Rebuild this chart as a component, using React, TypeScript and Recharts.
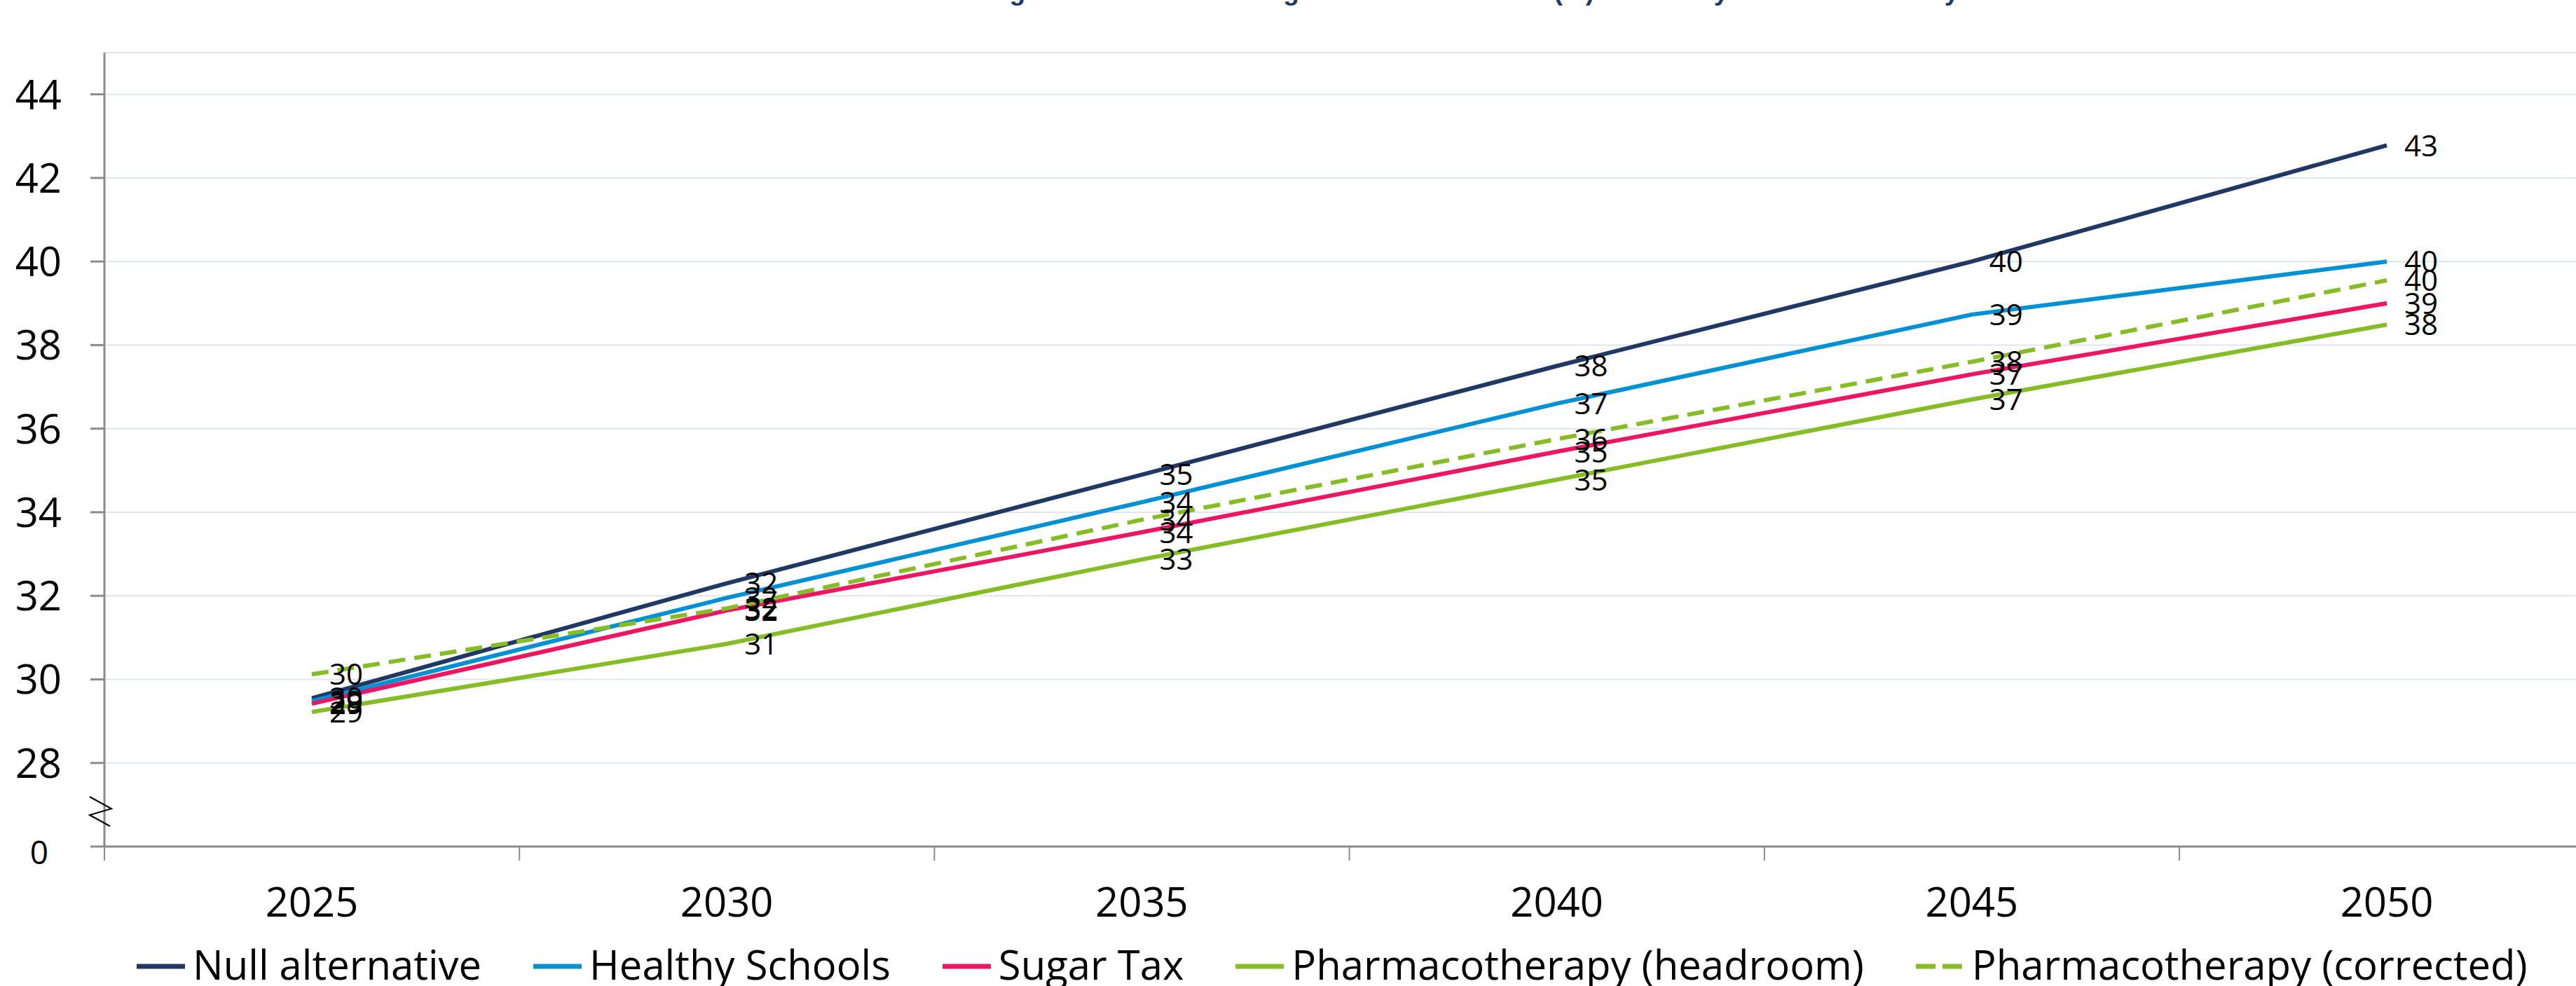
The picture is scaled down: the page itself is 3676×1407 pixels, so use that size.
import React from 'react';
import { LineChart, Line, XAxis, YAxis, CartesianGrid, Legend, LabelList } from 'recharts';

// Category axis and the five scenario series
const years = ['2025', '2030', '2035', '2040', '2045', '2050'];
const nullAlternative = [29.55, 32.3, 34.9, 37.5, 40.0, 42.78];
const healthySchools = [29.48, 31.95, 34.24, 36.6, 38.73, 40.0];
const sugarTax = [29.42, 31.65, 33.52, 35.45, 37.3, 39.0];
const pharmaHeadroom = [29.22, 30.85, 32.87, 34.78, 36.7, 38.49];
const pharmaCorrected = [30.12, 31.7, 33.82, 35.75, 37.6, 39.55];

// The value axis is broken below 28: its baseline sits one step lower and reads 0
const yTicks = [26, 28, 30, 32, 34, 36, 38, 40, 42, 44];
const BASELINE_TICK = 26;
const BASELINE_LABEL = '0';

const TITLE = 'Average BMI increase among adults in the cohort (%) to 2050 by intervention and year';

const series = [
  { key: 'nullAlternative', name: 'Null alternative', color: '#203864', values: nullAlternative },
  { key: 'healthySchools', name: 'Healthy Schools', color: '#0091D5', values: healthySchools },
  { key: 'sugarTax', name: 'Sugar Tax', color: '#EE1563', values: sugarTax },
  { key: 'pharmaHeadroom', name: 'Pharmacotherapy (headroom)', color: '#86BC25', values: pharmaHeadroom },
  { key: 'pharmaCorrected', name: 'Pharmacotherapy (corrected)', color: '#86BC25', values: pharmaCorrected, dash: '24 13' },
];

const data = years.map((year, i) => {
  const row: Record<string, any> = { year };
  series.forEach((s) => {
    row[s.key] = s.values[i];
  });
  return row;
});

const FONT = '"Open Sans", "Liberation Sans", Arial, sans-serif';
const AXIS = '#8C8C8C';
const GRID = '#E1E5EC';

const CHART_W = 3702;
const CHART_H = 1440;
const Y_AXIS_W = 149;
const HALF_BAND = 296;
const LEGEND_H = 93;
const X_AXIS_H = 139;

const YTick = (props: any) => {
  const { x, y, payload } = props;
  if (payload.value === BASELINE_TICK) {
    return (
      <text x={x - 19} y={y + 8} dy="0.36em" textAnchor="end" fontSize={46} fontFamily={FONT} fill="#000">
        {BASELINE_LABEL}
      </text>
    );
  }
  return (
    <text x={x} y={y} dy="0.36em" textAnchor="end" fontSize={58} fontFamily={FONT} fill="#000">
      {payload.value}
    </text>
  );
};

// tick marks sit between categories, labels under each category
const XTick = (props: any) => {
  const { x, y, payload, index } = props;
  return (
    <g>
      <line x1={x - HALF_BAND} x2={x - HALF_BAND} y1={y} y2={y + 20} stroke={AXIS} strokeWidth={2} />
      {index === years.length - 1 && (
        <line x1={x + HALF_BAND} x2={x + HALF_BAND} y1={y} y2={y + 20} stroke={AXIS} strokeWidth={2} />
      )}
      <text x={x} y={y + 100} textAnchor="middle" fontSize={58} fontFamily={FONT} fill="#000">
        {payload.value}
      </text>
    </g>
  );
};

const renderValueLabel = (props: any) => {
  const px = props.x ?? props.viewBox?.x;
  const py = props.y ?? props.viewBox?.y;
  if (px == null || py == null || props.value == null) return null;
  return (
    <text x={px + 25} y={py} dy="0.36em" fontSize={42} fontFamily={FONT} fill="#000">
      {Math.round(Number(props.value))}
    </text>
  );
};

const LegendRow = () => (
  <div
    style={{
      height: LEGEND_H,
      display: 'flex',
      alignItems: 'flex-start',
      paddingLeft: 195,
      fontFamily: FONT,
      fontSize: 58,
      lineHeight: '58px',
      color: '#000',
      whiteSpace: 'nowrap',
      boxSizing: 'border-box',
    }}
  >
    {series.map((s) => (
      <div key={s.key} style={{ display: 'flex', alignItems: 'center', marginRight: 74 }}>
        <svg width={69} height={12} style={{ marginTop: 6 }}>
          <line
            x1={0}
            x2={69}
            y1={6}
            y2={6}
            stroke={s.color}
            strokeWidth={7}
            strokeDasharray={s.dash ? '28 10' : undefined}
          />
        </svg>
        <span style={{ marginLeft: 11 }}>{s.name}</span>
      </div>
    ))}
  </div>
);

export default function App() {
  return (
    <div
      style={{
        position: 'fixed',
        left: 0,
        top: 0,
        width: 3676,
        height: 1407,
        overflow: 'hidden',
        background: '#fff',
      }}
    >
      <LineChart
        width={CHART_W}
        height={CHART_H}
        data={data}
        margin={{ top: 75, right: 0, bottom: 0, left: 0 }}
      >
        <CartesianGrid vertical={false} stroke={GRID} strokeWidth={2} />
        <XAxis
          dataKey="year"
          padding={{ left: HALF_BAND, right: HALF_BAND }}
          height={X_AXIS_H}
          axisLine={{ stroke: AXIS, strokeWidth: 3 }}
          tickLine={false}
          tickSize={0}
          tickMargin={0}
          interval={0}
          tick={<XTick />}
        />
        <YAxis
          type="number"
          domain={[26, 45]}
          ticks={yTicks}
          interval={0}
          width={Y_AXIS_W}
          axisLine={{ stroke: AXIS, strokeWidth: 3 }}
          tickLine={{ stroke: AXIS, strokeWidth: 3 }}
          tickSize={20}
          tickMargin={41}
          tick={<YTick />}
          allowDataOverflow
        />
        {series.map((s) => (
          <Line
            key={s.key}
            type="linear"
            dataKey={s.key}
            name={s.name}
            stroke={s.color}
            strokeWidth={6}
            strokeDasharray={s.dash}
            dot={false}
            activeDot={false}
            isAnimationActive={false}
          >
            <LabelList dataKey={s.key} content={renderValueLabel} />
          </Line>
        ))}
        <Legend
          verticalAlign="bottom"
          content={() => <LegendRow />}
          wrapperStyle={{ left: 0, bottom: 0, width: CHART_W, height: LEGEND_H }}
        />
      </LineChart>
      <svg
        width={3676}
        height={1407}
        style={{ position: 'absolute', left: 0, top: 0, pointerEvents: 'none' }}
      >
        <text
          x={1339}
          y={0}
          fontSize={37}
          fontWeight="bold"
          fontFamily='"Liberation Sans", Arial, sans-serif'
          fill="#1F3864"
        >
          {TITLE}
        </text>
        {/* axis break between the baseline and 28 */}
        <polyline
          points="128,1137 159,1154 128,1163 157,1179"
          fill="none"
          stroke="#000"
          strokeWidth={2}
        />
      </svg>
    </div>
  );
}
